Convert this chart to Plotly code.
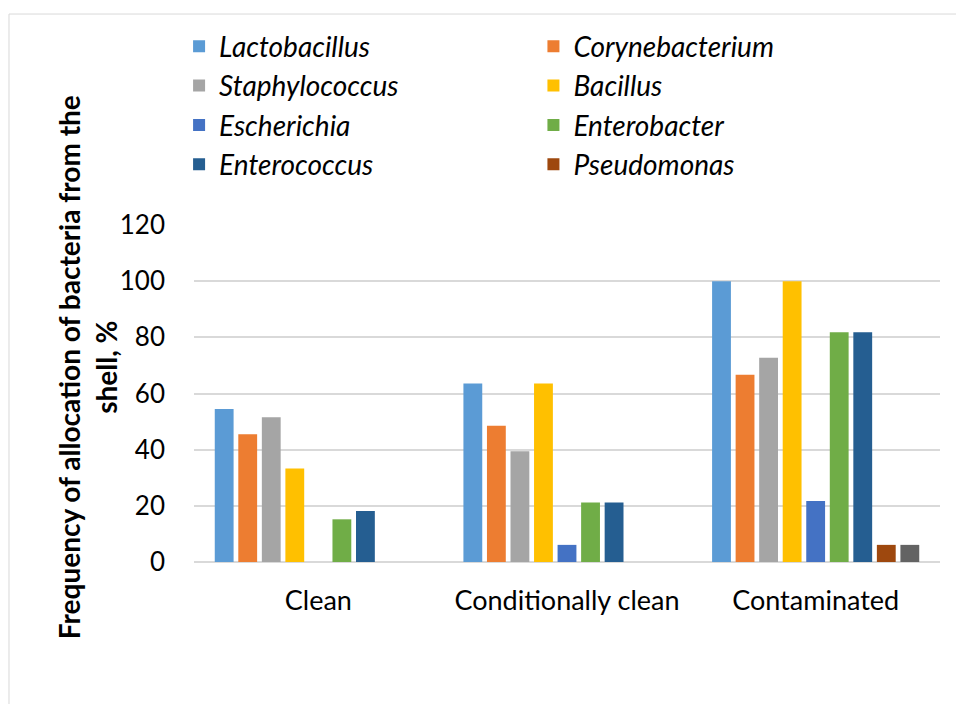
import plotly.graph_objects as go

categories = ["Clean", "Conditionally clean", "Contaminated"]

genera = ["Lactobacillus", "Corynebacterium", "Staphylococcus", "Bacillus",
          "Escherichia", "Enterobacter", "Enterococcus", "Pseudomonas", "Other"]

lactobacillus = [54.5, 63.6, 100.0]
corynebacterium = [45.5, 48.5, 66.7]
staphylococcus = [51.5, 39.4, 72.7]
bacillus = [33.3, 63.6, 100.0]
escherichia = [0.0, 6.1, 21.7]
enterobacter = [15.2, 21.2, 81.8]
enterococcus = [18.2, 21.2, 81.8]
pseudomonas = [0.0, 0.0, 6.1]
other = [0.0, 0.0, 6.1]

series = [lactobacillus, corynebacterium, staphylococcus, bacillus,
          escherichia, enterobacter, enterococcus, pseudomonas, other]

colors = ["#5B9BD5", "#ED7D31", "#A5A5A5", "#FFC000", "#4472C4",
          "#70AD47", "#255E91", "#9E480E", "#636363"]

# left legend column / right legend column
legend_of = ["legend", "legend2", "legend", "legend2",
             "legend", "legend2", "legend", "legend2", None]

FONT = "Lato"

fig = go.Figure()
for name, vals, col, leg in zip(genera, series, colors, legend_of):
    fig.add_trace(go.Bar(
        x=categories, y=vals, name=name,
        marker=dict(color=col, line=dict(width=0)),
        legend=leg if leg else "legend",
        legendgroup=name,
        showlegend=leg is not None,
    ))

legend_common = dict(
    orientation="v", yanchor="top", xanchor="left",
    font=dict(family=FONT, size=28, color="#000000", style="italic"),
    bgcolor="rgba(0,0,0,0)", borderwidth=0, tracegroupgap=0,
    itemclick=False, itemdoubleclick=False,
)

fig.update_layout(
    width=956, height=704,
    margin=dict(l=194, r=16, t=225, b=142),
    paper_bgcolor="white", plot_bgcolor="white",
    barmode="group", bargap=0.148, bargroupgap=0.2,
    font=dict(family=FONT, size=26, color="#000000"),
    legend=dict(x=-0.020, y=1.604, **legend_common),
    legend2=dict(x=0.455, y=1.604, **legend_common),
    xaxis=dict(
        showgrid=False, showline=False, zeroline=False,
        ticks="", ticklabelstandoff=20,
        tickfont=dict(family=FONT, size=27, color="#000000"),
    ),
    yaxis=dict(
        range=[0, 120], dtick=20, tick0=0,
        showgrid=True, gridcolor="#D9D9D9", gridwidth=1.5,
        zeroline=True, zerolinecolor="#D9D9D9", zerolinewidth=1.5,
        showline=False, ticks="", ticklabelstandoff=28,
        tickfont=dict(family=FONT, size=26, color="#000000"),
    ),
    annotations=[dict(
        text="Frequency of allocation of bacteria from the<br>shell, %",
        xref="paper", yref="paper", x=-0.143, y=0.579,
        xanchor="center", yanchor="middle", textangle=-90, showarrow=False,
        font=dict(family=FONT, size=28, color="#000000", weight="bold"),
    )],
    shapes=[dict(
        type="rect", xref="paper", yref="paper",
        x0=-0.248, x1=1.05, y0=-0.45, y1=1.626,
        line=dict(color="#D9D9D9", width=1), fillcolor="rgba(0,0,0,0)",
        layer="below",
    )],
)

fig.write_html("out.html")
